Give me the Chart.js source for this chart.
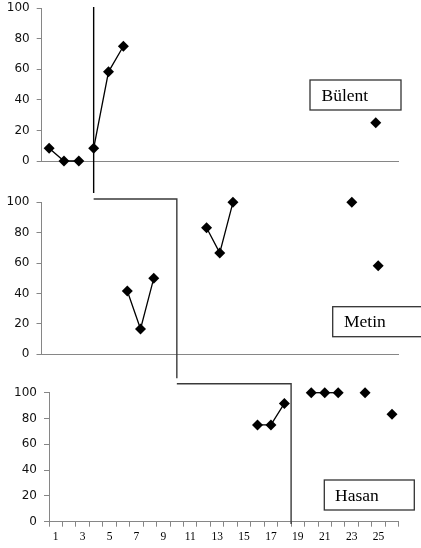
<!DOCTYPE html>
<html>
<head>
<meta charset="utf-8">
<script src="https://cdn.jsdelivr.net/npm/chart.js@4.4.0/dist/chart.umd.min.js"></script>
<style>
    body { margin: 0; background: #fff; }
    #contenedor { position: relative; width: 421px; height: 548px; overflow: hidden; }
    .panel { position: absolute; left: 0; }
    #fases { position: absolute; left: 0; top: 0; pointer-events: none; }
</style>
</head>
<body>
<div id="contenedor">
    <canvas id="grafico1" class="panel" width="421" height="190" style="top:0px"></canvas>
    <canvas id="grafico2" class="panel" width="421" height="180" style="top:190px"></canvas>
    <canvas id="grafico3" class="panel" width="421" height="178" style="top:370px"></canvas>
    <canvas id="fases" width="421" height="548"></canvas>
</div>
<script>
// Sesiones de cada panel (cada grafico de Excel tenia su propio eje)
const sesionesBulent = ['1','2','3','4','5','6','7','8','9','10','11','12','13','14','15','16','17','18','19','20','21','22','23','24'];
const sesionesMetin = ['1','2','3','4','5','6','7','8','9','10','11','12','13','14','15','16','17','18','19','20','21','22','23','24','25','26','27'];
const sesionesHasan = ['1','2','3','4','5','6','7','8','9','10','11','12','13','14','15','16','17','18','19','20','21','22','23','24','25','26'];

// Bülent
const bulentBaseSes = ['1', '2', '3'];
const bulentBaseVal = [8.3, 0, 0];
const bulentUygSes = ['4', '5', '6'];
const bulentUygVal = [8.3, 58.3, 75];
const bulentIzlSes = ['23'];
const bulentIzlVal = [25];

// Metin
const metinBaseSes = ['7', '8', '9'];
const metinBaseVal = [41.7, 16.7, 50];
const metinUygSes = ['13', '14', '15'];
const metinUygVal = [83.3, 66.7, 100];
const metinIzlSes = ['24', '26'];
const metinIzlVal = [100, 58.3];

// Hasan
const hasanBaseSes = ['16', '17', '18'];
const hasanBaseVal = [75, 75, 91.7];
const hasanUygSes = ['20', '21', '22'];
const hasanUygVal = [100, 100, 100];
const hasanIzlSes = ['24', '26'];
const hasanIzlVal = [100, 83.3];

// Cambios de fase (posicion en el eje de cada panel)
const cambiosFase = [3, 9.75, 17.5];

const yTicks = [0, 20, 40, 60, 80, 100];

const puntos = (ses, val) => ses.map((s, i) => ({ x: s, y: val[i] }));

const serie = (ses, val, conLinea) => ({
    data: puntos(ses, val),
    showLine: conLinea,
    borderColor: '#000',
    backgroundColor: '#000',
    borderWidth: 1.3,
    pointStyle: 'rectRot',
    pointRadius: 5.5,
    pointBorderWidth: 0,
    pointBackgroundColor: '#000',
    clip: false
});

// Caja con el nombre del alumno
const etiquetaCaja = {
    id: 'etiquetaCaja',
    afterDraw(chart, args, opts) {
        const ctx = chart.ctx;
        ctx.save();
        ctx.strokeStyle = '#333';
        ctx.lineWidth = 1.3;
        ctx.strokeRect(opts.x, opts.y, opts.ancho, opts.alto);
        ctx.font = '17.5px "Liberation Serif"';
        ctx.fillStyle = '#000';
        ctx.textBaseline = 'middle';
        ctx.fillText(opts.texto, opts.x + opts.margen, opts.y + opts.alto / 2 + 1);
        ctx.restore();
    }
};

const ejeY = (ancho) => ({
    min: 0,
    max: 100,
    afterBuildTicks: (escala) => { escala.ticks = yTicks.map(v => ({ value: v })); },
    ticks: { color: '#111', font: { family: 'DejaVu Sans', size: 12 }, padding: 7 },
    grid: { drawOnChartArea: false, drawTicks: true, tickLength: 5, color: '#868686' },
    border: { color: '#868686', width: 1 },
    afterFit: (escala) => {
        escala.width = ancho;
        escala.paddingTop = 0;
        escala.paddingBottom = 0;
    }
});

const ejeXSimple = (etiquetas, alto) => ({
    type: 'category',
    labels: etiquetas,
    offset: true,
    grid: { display: false },
    ticks: { display: false },
    border: { color: '#868686', width: 1 },
    afterFit: (escala) => { escala.height = alto; }
});

const opcionesBase = (padding, escalas, caja) => ({
    responsive: false,
    animation: false,
    devicePixelRatio: 1,
    layout: { padding: padding },
    plugins: {
        legend: { display: false },
        tooltip: { enabled: false },
        etiquetaCaja: caja
    },
    scales: escalas
});

const grafico1 = new Chart(document.getElementById('grafico1').getContext('2d'), {
    type: 'line',
    data: {
        labels: sesionesBulent,
        datasets: [
            serie(bulentBaseSes, bulentBaseVal, true),
            serie(bulentUygSes, bulentUygVal, true),
            serie(bulentIzlSes, bulentIzlVal, false)
        ]
    },
    options: opcionesBase(
        { top: 8, right: 23, left: 0, bottom: 0 },
        { x: ejeXSimple(sesionesBulent, 29), y: ejeY(41.7) },
        { texto: 'Bülent', x: 310, y: 80, ancho: 91, alto: 30, margen: 11.5 }
    ),
    plugins: [etiquetaCaja]
});

const grafico2 = new Chart(document.getElementById('grafico2').getContext('2d'), {
    type: 'line',
    data: {
        labels: sesionesMetin,
        datasets: [
            serie(metinBaseSes, metinBaseVal, true),
            serie(metinUygSes, metinUygVal, true),
            serie(metinIzlSes, metinIzlVal, false)
        ]
    },
    options: opcionesBase(
        { top: 12.3, right: 23, left: 0, bottom: 0 },
        { x: ejeXSimple(sesionesMetin, 15.7), y: ejeY(41.5) },
        { texto: 'Metin', x: 332.7, y: 116.7, ancho: 92, alto: 30, margen: 11.3 }
    ),
    plugins: [etiquetaCaja]
});

const grafico3 = new Chart(document.getElementById('grafico3').getContext('2d'), {
    type: 'line',
    data: {
        labels: sesionesHasan,
        datasets: [
            serie(hasanBaseSes, hasanBaseVal, true),
            serie(hasanUygSes, hasanUygVal, true),
            serie(hasanIzlSes, hasanIzlVal, false)
        ]
    },
    options: opcionesBase(
        { top: 22.7, right: 22.3, left: 0, bottom: 0 },
        {
            x: {
                type: 'category',
                labels: sesionesHasan,
                offset: true,
                grid: { offset: true, drawOnChartArea: false, drawTicks: true, tickLength: 5, color: '#868686' },
                ticks: {
                    autoSkip: false,
                    maxRotation: 0,
                    padding: 3,
                    color: '#000',
                    font: { family: 'Liberation Serif', size: 11.5 },
                    callback: (valor, i) => (i % 2 === 0 ? sesionesHasan[i] : '')
                },
                border: { color: '#868686', width: 1 },
                afterFit: (escala) => {
                    escala.height = 26.3;
                    escala.paddingLeft = 0;
                    escala.paddingRight = 0;
                }
            },
            y: ejeY(49)
        },
        { texto: 'Hasan', x: 324.3, y: 110, ancho: 90, alto: 30, margen: 10.7 }
    ),
    plugins: [etiquetaCaja]
});

// Lineas de cambio de fase en escalera, sobre los tres paneles
const dibujarFases = () => {
    const ctx = document.getElementById('fases').getContext('2d');
    const a1 = grafico1.chartArea, a2 = grafico2.chartArea, a3 = grafico3.chartArea;
    const top2 = 190, top3 = 370;
    const x1 = grafico1.scales.x.getPixelForValue(cambiosFase[0]);
    const x2 = grafico2.scales.x.getPixelForValue(cambiosFase[1]);
    const x3 = grafico3.scales.x.getPixelForValue(cambiosFase[2]);
    const yEsc1 = top2 + a2.top - 3.3;
    const yEsc2 = top3 + a3.top - 9;

    ctx.lineWidth = 1.4;
    ctx.strokeStyle = '#000';
    ctx.beginPath();
    ctx.moveTo(x1, a1.top - 1);
    ctx.lineTo(x1, a1.bottom + 32);
    ctx.stroke();

    ctx.strokeStyle = '#3a3a3a';
    ctx.beginPath();
    ctx.moveTo(x1, yEsc1);
    ctx.lineTo(x2, yEsc1);
    ctx.lineTo(x2, top2 + a2.bottom + 24);
    ctx.stroke();

    ctx.beginPath();
    ctx.moveTo(x2, yEsc2);
    ctx.lineTo(x3, yEsc2);
    ctx.lineTo(x3, top3 + a3.bottom + 2.3);
    ctx.stroke();
};

dibujarFases();
</script>
</body>
</html>
